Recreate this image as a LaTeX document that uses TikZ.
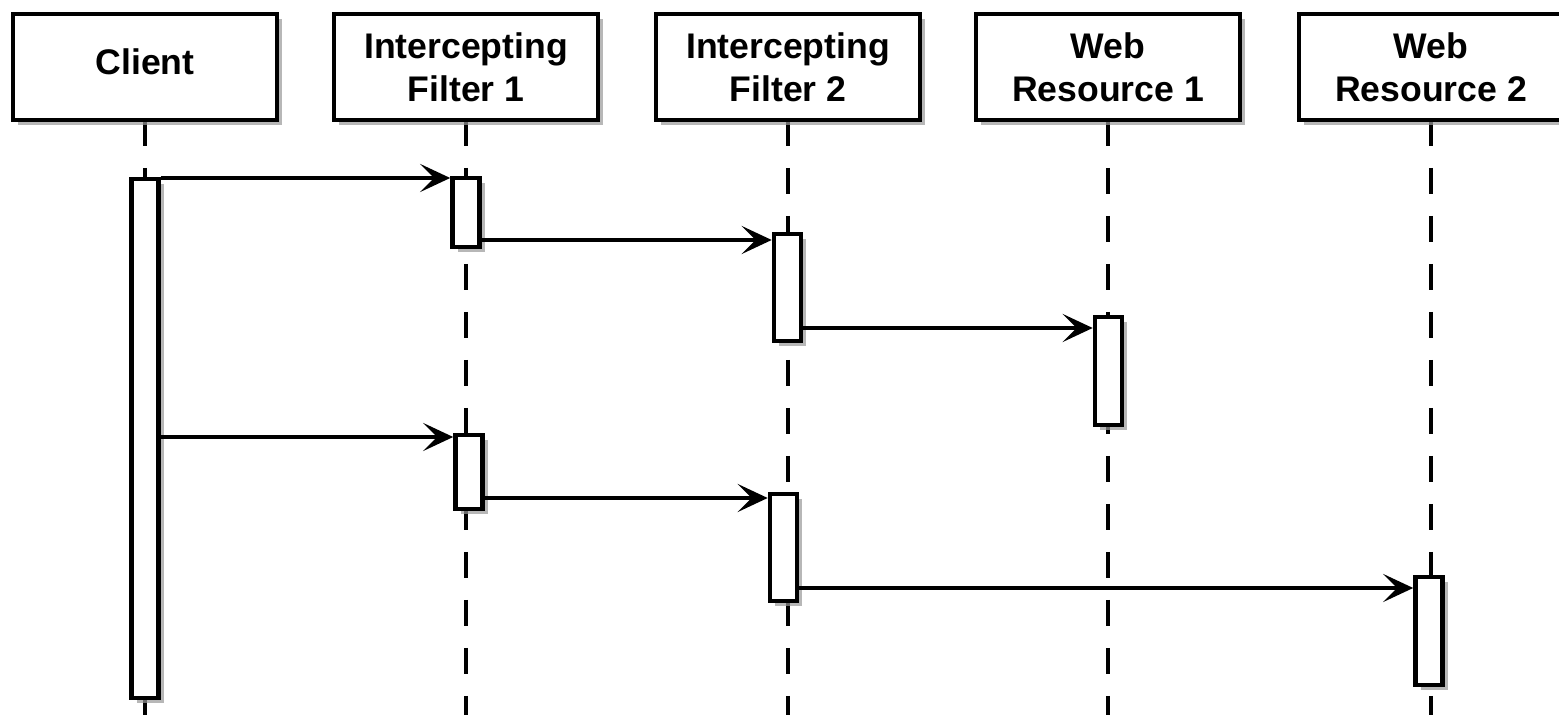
\documentclass[tikz,border=0pt]{standalone}
\usepackage{fontspec}
\setmainfont{Liberation Sans}
\usetikzlibrary{arrows.meta,shadows}
\begin{document}
\begin{tikzpicture}[x=0.5pt,y=-0.5pt,
  shad/.style={drop shadow={shadow xshift=2.5pt,shadow yshift=-2.5pt,fill=black!40,opacity=0.7}},
  hdr/.style={draw, line width=2.3pt, fill=white, minimum width=132pt, minimum height=53pt,
    inner sep=0pt, align=center, shad,
    font=\fontsize{17.8pt}{21.5pt}\selectfont\bfseries},
  act/.style={draw, line width=2.3pt, fill=white, inner sep=0pt, minimum width=13.5pt, shad},
  life/.style={line width=2.2pt, dash pattern=on 13pt off 11pt},
  msg/.style={line width=2.2pt, -{Stealth[length=15pt,width=14pt,inset=7pt]}}
]
\useasboundingbox (0,0) rectangle (1559,715);
\fill[white] (0,0) rectangle (1559,715);

\coordinate (bottom) at (0,722);

% lifelines first
\coordinate (l1) at (145,120);
\coordinate (l2) at (466,120);
\coordinate (l3) at (788,120);
\coordinate (l4) at (1108,120);
\coordinate (l5) at (1431,120);
\foreach \l in {l1,l2,l3,l4,l5}{
  \draw[life] (\l) -- (\l |- bottom);
}

% header boxes
\node[hdr, text depth=5pt] (c) at (145,67) {Client};
\node[hdr] (f1) at (466,67) {Intercepting\\Filter 1};
\node[hdr] (f2) at (788,67) {Intercepting\\Filter 2};
\node[hdr] (w1) at (1108,67) {Web\\Resource 1};
\node[hdr] (w2) at (1431,67) {Web\\Resource 2};

% activation boxes
\node[act, minimum height=259.5pt] (ca) at (145,438.5) {};
\node[act, minimum height=34.5pt] (f1a) at (466,212.5) {};
\node[act, minimum height=53.5pt] (f2a) at (787.5,287.5) {};
\node[act, minimum height=54pt] (w1a) at (1108.5,371) {};
\node[act, minimum height=37pt] (f1b) at (469,472) {};
\node[act, minimum height=53.5pt] (f2b) at (783.5,547.5) {};
\node[act, minimum height=54pt] (w2a) at (1429,631) {};

% message heights
\coordinate (m1) at (0,178);
\coordinate (m2) at (0,240);
\coordinate (m3) at (0,328);
\coordinate (m4) at (0,437);
\coordinate (m5) at (0,498);
\coordinate (m6) at (0,588);

\draw[msg] (ca.east |- m1) -- (f1a.west |- m1);
\draw[msg] (f1a.east |- m2) -- (f2a.west |- m2);
\draw[msg] (f2a.east |- m3) -- (w1a.west |- m3);
\draw[msg] (ca.east |- m4) -- (f1b.west |- m4);
\draw[msg] (f1b.east |- m5) -- (f2b.west |- m5);
\draw[msg] (f2b.east |- m6) -- (w2a.west |- m6);
\end{tikzpicture}
\end{document}
